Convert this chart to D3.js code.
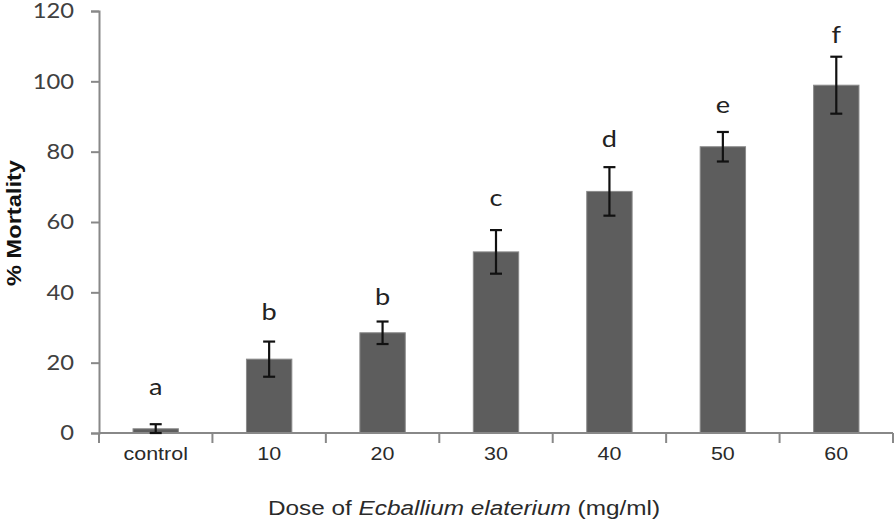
<!DOCTYPE html>
<html>
<head>
<meta charset="utf-8">
<script src="https://cdn.jsdelivr.net/npm/d3@7"></script>
<style>
  body { margin: 0; background: #fff; }
  svg { display: block; }
</style>
</head>
<body>
<svg id="chart"></svg>
<script>
const doses = ['control', '10', '20', '30', '40', '50', '60'];
const mortality = [1.2, 21.0, 28.5, 51.5, 68.7, 81.4, 98.9];
const errors = [1.3, 5.0, 3.2, 6.2, 6.9, 4.2, 8.1];
const groups = ['a', 'b', 'b', 'c', 'd', 'e', 'f'];
// level (in % units) at which each letter sits
const groupLevels = [10.8, 32.1, 36.4, 64.5, 81.4, 91.1, 110.8];
const yTicks = [0, 20, 40, 60, 80, 100, 120];

const width = 896, height = 523;
const margin = { top: 11, right: 3, bottom: 90, left: 99 };
const stretchX = 1.13; // the source picture is a little wider than tall

const svg = d3.select('#chart').attr('width', width).attr('height', height);
const g = svg.append('g').attr('transform', `translate(${margin.left},${margin.top})`);

const innerWidth = width - margin.left - margin.right;
const innerHeight = height - margin.top - margin.bottom;

const x = d3.scaleBand().domain(doses).range([0, innerWidth]).paddingInner(0.6).paddingOuter(0.3);
const y = d3.scaleLinear().domain([0, 120]).range([innerHeight, 0]);

const axisColor = '#888';
const calibri = 'Lato, "Open Sans", sans-serif';
const arial = '"Liberation Sans", Arial, sans-serif';

// widen the glyphs a bit, like the source picture
function stretch(sel) {
  sel.each(function () {
    const len = this.getComputedTextLength();
    d3.select(this).attr('textLength', len * stretchX).attr('lengthAdjust', 'spacingAndGlyphs');
  });
}

// y axis
const yAxis = g.append('g')
  .call(d3.axisLeft(y).tickValues(yTicks).tickSize(8).tickSizeOuter(8).tickPadding(17));
yAxis.select('.domain').attr('stroke', axisColor).attr('stroke-width', 2);
yAxis.selectAll('.tick line').attr('stroke', axisColor).attr('stroke-width', 2);
yAxis.selectAll('.tick text')
  .attr('fill', '#404040')
  .style('font-family', calibri)
  .style('font-size', '21px')
  .call(stretch);

// bars
g.append('g').selectAll('rect')
  .data(doses)
  .enter()
  .append('rect')
  .attr('x', d => x(d))
  .attr('width', x.bandwidth())
  .attr('y', (d, i) => y(mortality[i]))
  .attr('height', (d, i) => innerHeight - y(mortality[i]))
  .attr('fill', '#5d5d5d')
  .attr('stroke', '#8a8a8a')
  .attr('stroke-width', 1);

// x axis: ticks on category boundaries
const step = innerWidth / doses.length;
const xAxis = g.append('g').attr('transform', `translate(0,${innerHeight})`);
xAxis.append('line')
  .attr('x1', 0).attr('x2', innerWidth)
  .attr('stroke', axisColor).attr('stroke-width', 2);
xAxis.selectAll('line.tick')
  .data(d3.range(doses.length + 1))
  .enter()
  .append('line')
  .attr('class', 'tick')
  .attr('x1', i => i * step).attr('x2', i => i * step)
  .attr('y1', 0).attr('y2', 10)
  .attr('stroke', axisColor).attr('stroke-width', 2);
xAxis.selectAll('text')
  .data(doses)
  .enter()
  .append('text')
  .attr('x', d => x(d) + x.bandwidth() / 2)
  .attr('y', 27)
  .attr('text-anchor', 'middle')
  .attr('fill', '#2a2a2a')
  .style('font-family', arial)
  .style('font-size', '19px')
  .text(d => d)
  .call(stretch);

// error bars
const cap = 6;
const err = g.append('g').attr('stroke', '#111').attr('stroke-width', 2.2);
doses.forEach((d, i) => {
  const cx = x(d) + x.bandwidth() / 2;
  const lo = y(Math.max(0, mortality[i] - errors[i]));
  const hi = y(mortality[i] + errors[i]);
  err.append('line').attr('x1', cx).attr('x2', cx).attr('y1', lo).attr('y2', hi);
  err.append('line').attr('x1', cx - cap).attr('x2', cx + cap).attr('y1', lo).attr('y2', lo);
  err.append('line').attr('x1', cx - cap).attr('x2', cx + cap).attr('y1', hi).attr('y2', hi);
});

// significance letters
g.append('g').selectAll('text')
  .data(groups)
  .enter()
  .append('text')
  .attr('x', (d, i) => x(doses[i]) + x.bandwidth() / 2)
  .attr('y', (d, i) => y(groupLevels[i]))
  .attr('text-anchor', 'middle')
  .attr('fill', '#222')
  .style('font-family', calibri)
  .style('font-size', '24px')
  .text(d => d)
  .call(stretch);

// axis titles
svg.append('text')
  .attr('x', 268)
  .attr('y', 515)
  .attr('fill', '#2a2a2a')
  .attr('textLength', 392)
  .attr('lengthAdjust', 'spacingAndGlyphs')
  .style('font-family', arial)
  .style('font-size', '20px')
  .html('Dose of <tspan font-style="italic">Ecballium elaterium</tspan> (mg/ml)');

svg.append('text')
  .attr('transform', 'translate(21,223) rotate(-90)')
  .attr('text-anchor', 'middle')
  .attr('fill', '#111')
  .attr('textLength', 126)
  .attr('lengthAdjust', 'spacingAndGlyphs')
  .style('font-family', arial)
  .style('font-size', '20px')
  .style('font-weight', 'bold')
  .text('% Mortality');
</script>
</body>
</html>
